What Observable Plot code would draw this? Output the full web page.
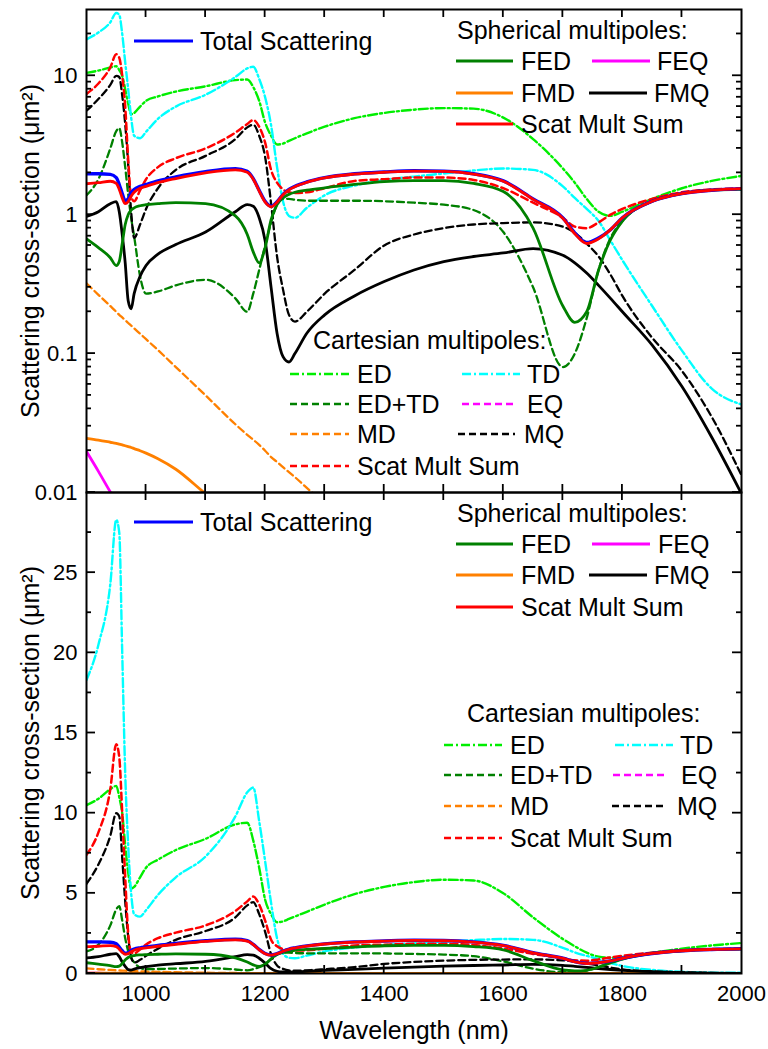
<!DOCTYPE html>
<html><head><meta charset="utf-8">
<script src="https://cdn.jsdelivr.net/npm/d3@7"></script>
<script src="https://cdn.jsdelivr.net/npm/@observablehq/plot@0.6"></script>
<style>
body{margin:0;background:#fff;}
#chart{position:relative;width:768px;height:1049px;font-family:"Liberation Sans",Arial,sans-serif;}
#chart svg{position:absolute;left:0;overflow:visible;}
</style></head><body><div id="chart"></div>
<script>
// ---------- data (µm²) ----------
const wavelength = [900,920,940,950,955,960,965,970,975,980,990,1000,1020,1050,1100,1150,1170,1180,1190,1200,1210,1220,1230,1240,1250,1270,1300,1350,1400,1450,1500,1550,1600,1650,1700,1720,1740,1760,1780,1800,1850,1900,1950,2000];

const totalScattering = [1.97,1.97,1.95,1.85,1.65,1.42,1.26,1.3,1.44,1.52,1.6,1.65,1.75,1.87,2.04,2.14,2.05,1.82,1.5,1.25,1.15,1.24,1.4,1.52,1.6,1.72,1.85,1.97,2.03,2.07,2.06,1.97,1.75,1.3,0.95,0.74,0.63,0.68,0.78,0.95,1.25,1.42,1.5,1.54];
const FED = [0.67,0.58,0.49,0.43,0.46,0.62,0.85,1.0,1.08,1.12,1.16,1.18,1.2,1.22,1.2,0.98,0.72,0.54,0.45,0.58,0.92,1.18,1.32,1.4,1.45,1.5,1.56,1.65,1.73,1.76,1.76,1.68,1.47,0.8,0.22,0.168,0.2,0.4,0.66,0.9,1.25,1.42,1.5,1.52];
const FMD = [0.0245,0.0238,0.023,0.0226,0.0223,0.022,0.0217,0.0214,0.0211,0.0207,0.02,0.0192,0.0175,0.0147,0.0098,0.0068,0.006,0.0056,0.0052,0.0049,0.0046,0.0043,0.004,0.0038,0.0036,0.0032,0.0028,0.0023,0.0019,0.0016,0.0014,0.0012,0.001,0.0009,0.0008,0.00075,0.0007,0.00066,0.00063,0.0006,0.00052,0.00045,0.0004,0.00035];
const FEQ = [0.0197,0.0142,0.0101,0.0086,0.0079,0.0073,0.0067,0.0062,0.0057,0.0053,0.0046,0.004,0.003,0.002,0.0011,0.0007,0.0006,0.00055,0.0005,0.00045,0.00042,0.0004,0.00037,0.00035,0.00033,0.0003,0.00026,0.0002,0.00016,0.00013,0.00011,0.0001,0.00009,0.00008,0.00007,0.000065,0.00006,0.000057,0.000054,0.00005,0.000045,0.00004,0.000035,0.00003];
const FMQ = [0.97,1.05,1.2,1.24,1.05,0.72,0.45,0.24,0.21,0.27,0.36,0.43,0.52,0.61,0.75,1.05,1.18,1.15,0.95,0.65,0.3,0.14,0.095,0.087,0.1,0.14,0.19,0.26,0.33,0.4,0.46,0.5,0.53,0.57,0.51,0.45,0.38,0.31,0.25,0.2,0.115,0.058,0.025,0.0098];
const scatMultSumSpherical = [1.67,1.7,1.74,1.68,1.52,1.32,1.2,1.24,1.36,1.45,1.55,1.6,1.7,1.82,2.0,2.1,2.02,1.8,1.48,1.23,1.14,1.23,1.39,1.51,1.59,1.71,1.84,1.96,2.02,2.06,2.05,1.96,1.74,1.29,0.94,0.73,0.62,0.67,0.78,0.95,1.25,1.42,1.5,1.54];

const ED = [10.5,10.9,11.5,11.7,11.0,10.0,8.0,6.3,5.3,5.4,6.0,6.6,7.1,7.7,8.4,9.3,9.4,8.3,6.6,4.6,3.7,3.2,3.25,3.4,3.55,3.85,4.3,4.95,5.4,5.7,5.85,5.8,5.0,3.5,2.15,1.7,1.3,1.05,0.98,1.05,1.3,1.55,1.75,1.9];
const TD = [18.3,20.5,24.3,28.3,27.5,20,12.5,8.0,5.0,3.7,3.55,3.95,4.9,6.0,7.3,9.8,11.3,11.6,9.5,7.0,4.4,2.2,1.25,0.98,0.95,1.12,1.38,1.62,1.78,1.88,1.98,2.08,2.15,2.1,1.6,1.32,1.1,0.9,0.65,0.47,0.22,0.105,0.056,0.043];
const EDplusTD = [1.38,1.8,3.0,4.0,4.2,3.3,2.2,1.4,0.95,0.7,0.36,0.27,0.28,0.31,0.34,0.25,0.2,0.27,0.4,0.6,0.88,1.18,1.3,1.3,1.28,1.26,1.26,1.26,1.25,1.22,1.18,1.08,0.75,0.3,0.08,0.1,0.18,0.4,0.68,0.9,1.25,1.42,1.5,1.52];
const EQ = [0.004,0.0035,0.003,0.0028,0.0027,0.0026,0.0025,0.0024,0.0023,0.0022,0.002,0.0018,0.0015,0.0012,0.0008,0.0006,0.00055,0.0005,0.00048,0.00046,0.00044,0.00042,0.0004,0.00038,0.00036,0.00033,0.0003,0.00025,0.0002,0.00017,0.00015,0.00013,0.00011,0.0001,0.00009,0.000085,0.00008,0.000075,0.00007,0.000065,0.00006,0.000055,0.00005,0.000045];
const MD = [0.32,0.265,0.22,0.2,0.19,0.182,0.174,0.166,0.159,0.152,0.139,0.127,0.106,0.08,0.05,0.031,0.026,0.024,0.022,0.02,0.018,0.0166,0.0152,0.014,0.0129,0.0108,0.0083,0.0052,0.0033,0.0021,0.0014,0.001,0.0007,0.0005,0.0004,0.00036,0.00033,0.0003,0.00028,0.00026,0.00022,0.00019,0.00017,0.00015];
const MQ = [5.6,6.8,8.6,10.0,9.8,7.2,4.5,2.3,1.05,0.68,0.85,1.1,1.55,2.1,2.65,3.5,4.25,4.45,3.7,2.6,1.2,0.5,0.29,0.19,0.17,0.2,0.27,0.4,0.6,0.72,0.8,0.85,0.87,0.88,0.82,0.74,0.62,0.5,0.37,0.26,0.13,0.075,0.035,0.0133];
const scatMultSumCartesian = [7.4,8.8,11.5,14.3,13.5,10,6,2.5,1.35,1.25,1.5,1.8,2.2,2.55,3.0,3.9,4.5,4.8,4.3,3.3,2.1,1.7,1.52,1.45,1.43,1.45,1.55,1.75,1.8,1.85,1.85,1.78,1.55,1.22,0.95,0.82,0.8,0.88,1.0,1.1,1.3,1.45,1.52,1.55];

const xTicks = [1000,1100,1200,1300,1400,1500,1600,1700,1800,1900];
const xTickLabels = [1000,1200,1400,1600,1800,2000];
const logMajor = [0.01,0.1,1,10];
const logMinor = [0.02,0.03,0.04,0.05,0.06,0.07,0.08,0.09,0.2,0.3,0.4,0.5,0.6,0.7,0.8,0.9,2,3,4,5,6,7,8,9,20];
const linMajor = [0,5,10,15,20,25];
const linMinor = [2.5,7.5,12.5,17.5,22.5,27.5];

// ---------- styles ----------
const FONT = '"Liberation Sans", Arial, sans-serif';
const DARKGREEN = "#008000", LIGHTGREEN = "#00ee00", CYAN = "#00ffff", ORANGE = "#ff8000",
      MAGENTA = "#ff00ff", RED = "#ff0000", BLUE = "#0000ff", BLACK = "#000000";
const DASH = "7,4", DASHDOT = "9,3,2,3";

const series = [
  {name: "MD",  values: MD,  color: ORANGE, dash: DASH, width: 2.3},
  {name: "EQ",  values: EQ,  color: MAGENTA, dash: DASH, width: 2.3},
  {name: "ED",  values: ED,  color: LIGHTGREEN, dash: DASHDOT, width: 2.4},
  {name: "TD",  values: TD,  color: CYAN, dash: DASHDOT, width: 2.4},
  {name: "ED+TD", values: EDplusTD, color: DARKGREEN, dash: DASH, width: 2.3},
  {name: "MQ",  values: MQ,  color: BLACK, dash: DASH, width: 2.3},
  {name: "Scat Mult Sum (cart)", values: scatMultSumCartesian, color: RED, dash: DASH, width: 2.5},
  {name: "FEQ", values: FEQ, color: MAGENTA, dash: null, width: 2.8},
  {name: "FMD", values: FMD, color: ORANGE, dash: null, width: 2.8},
  {name: "FMQ", values: FMQ, color: BLACK, dash: null, width: 2.8},
  {name: "FED", values: FED, color: DARKGREEN, dash: null, width: 2.8},
  {name: "Total Scattering", values: totalScattering, color: BLUE, dash: null, width: 3.4},
  {name: "Scat Mult Sum (sph)", values: scatMultSumSpherical, color: RED, dash: null, width: 2.8}
];
const byName = Object.fromEntries(series.map(s => [s.name, s]));

function lineMarks() {
  return series.map(s => Plot.line(
    wavelength.map((w, i) => ({w, v: s.values[i]})),
    {x: "w", y: "v", stroke: s.color, strokeWidth: s.width, strokeDasharray: s.dash ?? undefined,
     curve: "monotone-x", clip: true}));
}

function frameMarks(yLabelTicks, yFmt) {
  return [
    Plot.axisY({ticks: yLabelTicks, anchor: "left", tickSize: 0, tickPadding: 9, tickFormat: yFmt, label: null, fontSize: 22}),
    Plot.frame({stroke: "black", strokeWidth: 2}),
    Plot.text(["Scattering cross-section (\u03bcm\u00b2)"], {text: d => d, frameAnchor: "left", textAnchor: "middle", rotate: -90, dx: -56, fontSize: 25, lineAnchor: "middle"})
  ];
}

const baseStyle = {background: "transparent", overflow: "visible", fontFamily: FONT, fontSize: "22px", color: "black"};

const topPlot = Plot.plot({
  width: 768, height: 493,
  marginLeft: 86, marginRight: 27, marginTop: 9, marginBottom: 1,
  x: {domain: [900, 2000], axis: null},
  y: {type: "log", domain: [0.01, 30]},
  style: baseStyle,
  marks: [...lineMarks(), ...frameMarks(logMajor, d => String(d))]
});

const bottomPlot = Plot.plot({
  width: 768, height: 566,
  marginLeft: 86, marginRight: 27, marginTop: 9, marginBottom: 76,
  x: {domain: [900, 2000]},
  y: {type: "linear", domain: [0, 30]},
  style: baseStyle,
  marks: [
    ...lineMarks(),
    ...frameMarks(linMajor, d => String(d)),
    Plot.axisX({ticks: xTickLabels, anchor: "bottom", tickSize: 0, tickPadding: 12, tickFormat: d => String(d), label: null, fontSize: 22}),
    Plot.text(["Wavelength (nm)"], {text: d => d, frameAnchor: "bottom", dy: 57, fontSize: 25, lineAnchor: "middle"})
  ]
});

const chart = document.getElementById("chart");
const TOP_OFF = 0, BOTTOM_OFF = 483;
topPlot.style.top = TOP_OFF + "px";
bottomPlot.style.top = BOTTOM_OFF + "px";
chart.appendChild(topPlot);
chart.appendChild(bottomPlot);

// ---------- overlay: inward ticks (from Plot's scales) + legends ----------
const overlay = d3.create("svg").attr("width", 768).attr("height", 1049)
  .style("top", "0px").style("pointer-events", "none")
  .attr("font-family", FONT).attr("font-size", 25);

function inwardTicks(plot, off, yMajor, yMinor) {
  const sx = plot.scale("x"), sy = plot.scale("y");
  const [xl, xr] = sx.range;
  const yb = Math.max(...sy.range) + off, yt = Math.min(...sy.range) + off;
  const g = overlay.append("g").attr("stroke", "black").attr("stroke-width", 1.8);
  for (const v of xTicks) {
    const x = sx.apply(v);
    g.append("line").attr("x1", x).attr("x2", x).attr("y1", yb).attr("y2", yb - 8);
    g.append("line").attr("x1", x).attr("x2", x).attr("y1", yt).attr("y2", yt + 8);
  }
  for (const [vals, len] of [[yMajor, 9], [yMinor, 5]]) {
    for (const v of vals) {
      const y = sy.apply(v) + off;
      g.append("line").attr("x1", xl).attr("x2", xl + len).attr("y1", y).attr("y2", y);
      g.append("line").attr("x1", xr).attr("x2", xr - len).attr("y1", y).attr("y2", y);
    }
  }
}
inwardTicks(topPlot, TOP_OFF, logMajor, logMinor);
inwardTicks(bottomPlot, BOTTOM_OFF, linMajor, linMinor);

const legendLayouts = [
  { // top panel
    titles: [["Spherical multipoles:", 457, 30], ["Cartesian multipoles:", 313, 340]],
    entries: [
      ["Total Scattering", "Total Scattering", 134, 193, 41, 200],
      ["FED", "FED", 456, 513, 61, 521], ["FEQ", "FEQ", 592, 650, 61, 657],
      ["FMD", "FMD", 456, 513, 93, 521], ["FMQ", "FMQ", 589, 647, 93, 654],
      ["Scat Mult Sum (sph)", "Scat Mult Sum", 456, 513, 124, 521],
      ["ED", "ED", 290, 349, 374, 357], ["TD", "TD", 462, 520, 374, 527],
      ["ED+TD", "ED+TD", 290, 349, 404, 357], ["EQ", "EQ", 462, 517, 404, 527],
      ["MD", "MD", 290, 349, 434, 357], ["MQ", "MQ", 458, 515, 434, 524],
      ["Scat Mult Sum (cart)", "Scat Mult Sum", 290, 349, 466, 357]
    ]
  },
  { // bottom panel
    titles: [["Spherical multipoles:", 457, 513], ["Cartesian multipoles:", 467, 713]],
    entries: [
      ["Total Scattering", "Total Scattering", 134, 193, 522, 200],
      ["FED", "FED", 456, 513, 544, 521], ["FEQ", "FEQ", 592, 650, 544, 658],
      ["FMD", "FMD", 456, 513, 575, 521], ["FMQ", "FMQ", 589, 647, 575, 654],
      ["Scat Mult Sum (sph)", "Scat Mult Sum", 456, 513, 607, 521],
      ["ED", "ED", 444, 502, 745, 510], ["TD", "TD", 615, 673, 745, 680],
      ["ED+TD", "ED+TD", 444, 502, 775, 510], ["EQ", "EQ", 613, 667, 775, 681],
      ["MD", "MD", 444, 502, 806, 510], ["MQ", "MQ", 612, 667, 806, 677],
      ["Scat Mult Sum (cart)", "Scat Mult Sum", 444, 502, 838, 510]
    ]
  }
];

for (const L of legendLayouts) {
  for (const [t, x, y] of L.titles) {
    overlay.append("text").attr("x", x).attr("y", y).attr("dy", "0.35em").text(t);
  }
  for (const [key, label, x1, x2, y, tx] of L.entries) {
    const s = byName[key];
    overlay.append("line").attr("x1", x1).attr("x2", x2).attr("y1", y).attr("y2", y)
      .attr("stroke", s.color).attr("stroke-width", s.dash ? 2.4 : 3)
      .attr("stroke-dasharray", s.dash);
    overlay.append("text").attr("x", tx).attr("y", y).attr("dy", "0.35em").text(label);
  }
}
chart.appendChild(overlay.node());
</script></body></html>
